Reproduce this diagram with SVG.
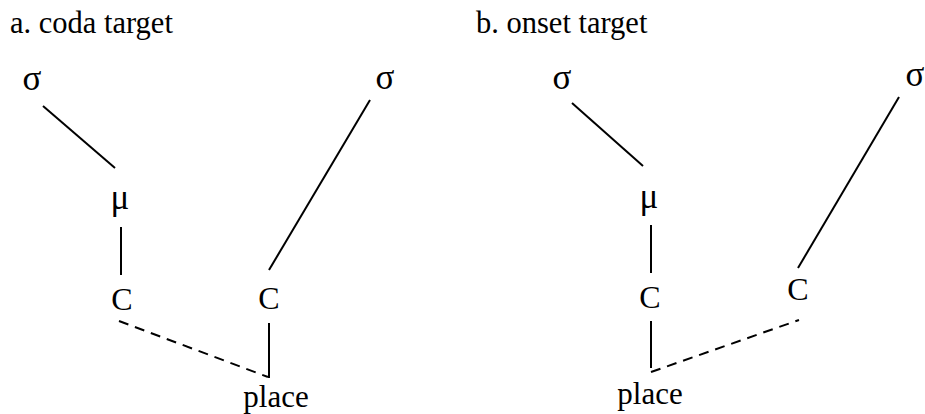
<svg xmlns="http://www.w3.org/2000/svg" width="925" height="414" viewBox="0 0 925 414">
<style>
text{font-family:"Liberation Serif","Times New Roman",serif;fill:#000}
.t{font-size:30.5px}
.n{font-size:32px;text-anchor:middle}
.g{font-size:35px;text-anchor:middle}
.p{font-size:31px;text-anchor:middle}
.l{stroke:#000;stroke-width:2;fill:none}
.d{stroke:#000;stroke-width:2;fill:none;stroke-dasharray:10 7}
</style>
<rect width="925" height="414" fill="#fff"/>
<g id="titles">
<text class="t" x="10" y="33">a. coda target</text>
<text class="t" x="476" y="33">b. onset target</text>
</g>
<g id="connectors">
<line class="l" x1="43" y1="106" x2="115" y2="168"/>
<line class="l" x1="121" y1="227" x2="121" y2="275"/>
<line class="l" x1="370" y1="100" x2="269" y2="270"/>
<line class="l" x1="269" y1="323" x2="269" y2="378"/>
<line class="d" x1="119" y1="321" x2="268" y2="377"/>
<line class="l" x1="572" y1="103" x2="643" y2="166"/>
<line class="l" x1="651" y1="225" x2="651" y2="273"/>
<line class="l" x1="651" y1="321" x2="651" y2="368"/>
<line class="d" x1="651" y1="372" x2="799" y2="320"/>
<line class="l" x1="899" y1="97" x2="798" y2="268"/>
</g>
<g id="a-sigma1"><text class="g" x="32" y="90">σ</text></g>
<g id="a-mu"><text class="g" x="120" y="209">μ</text></g>
<g id="a-C1"><text class="n" x="122" y="310">C</text></g>
<g id="a-sigma2"><text class="g" x="385" y="89">σ</text></g>
<g id="a-C2"><text class="n" x="269" y="309">C</text></g>
<g id="a-place"><text class="p" x="276" y="407">place</text></g>
<g id="b-sigma1"><text class="g" x="562" y="89">σ</text></g>
<g id="b-mu"><text class="g" x="649" y="208">μ</text></g>
<g id="b-C1"><text class="n" x="650" y="308">C</text></g>
<g id="b-sigma2"><text class="g" x="915" y="86">σ</text></g>
<g id="b-C2"><text class="n" x="798" y="300">C</text></g>
<g id="b-place"><text class="p" x="650" y="404">place</text></g>
</svg>
